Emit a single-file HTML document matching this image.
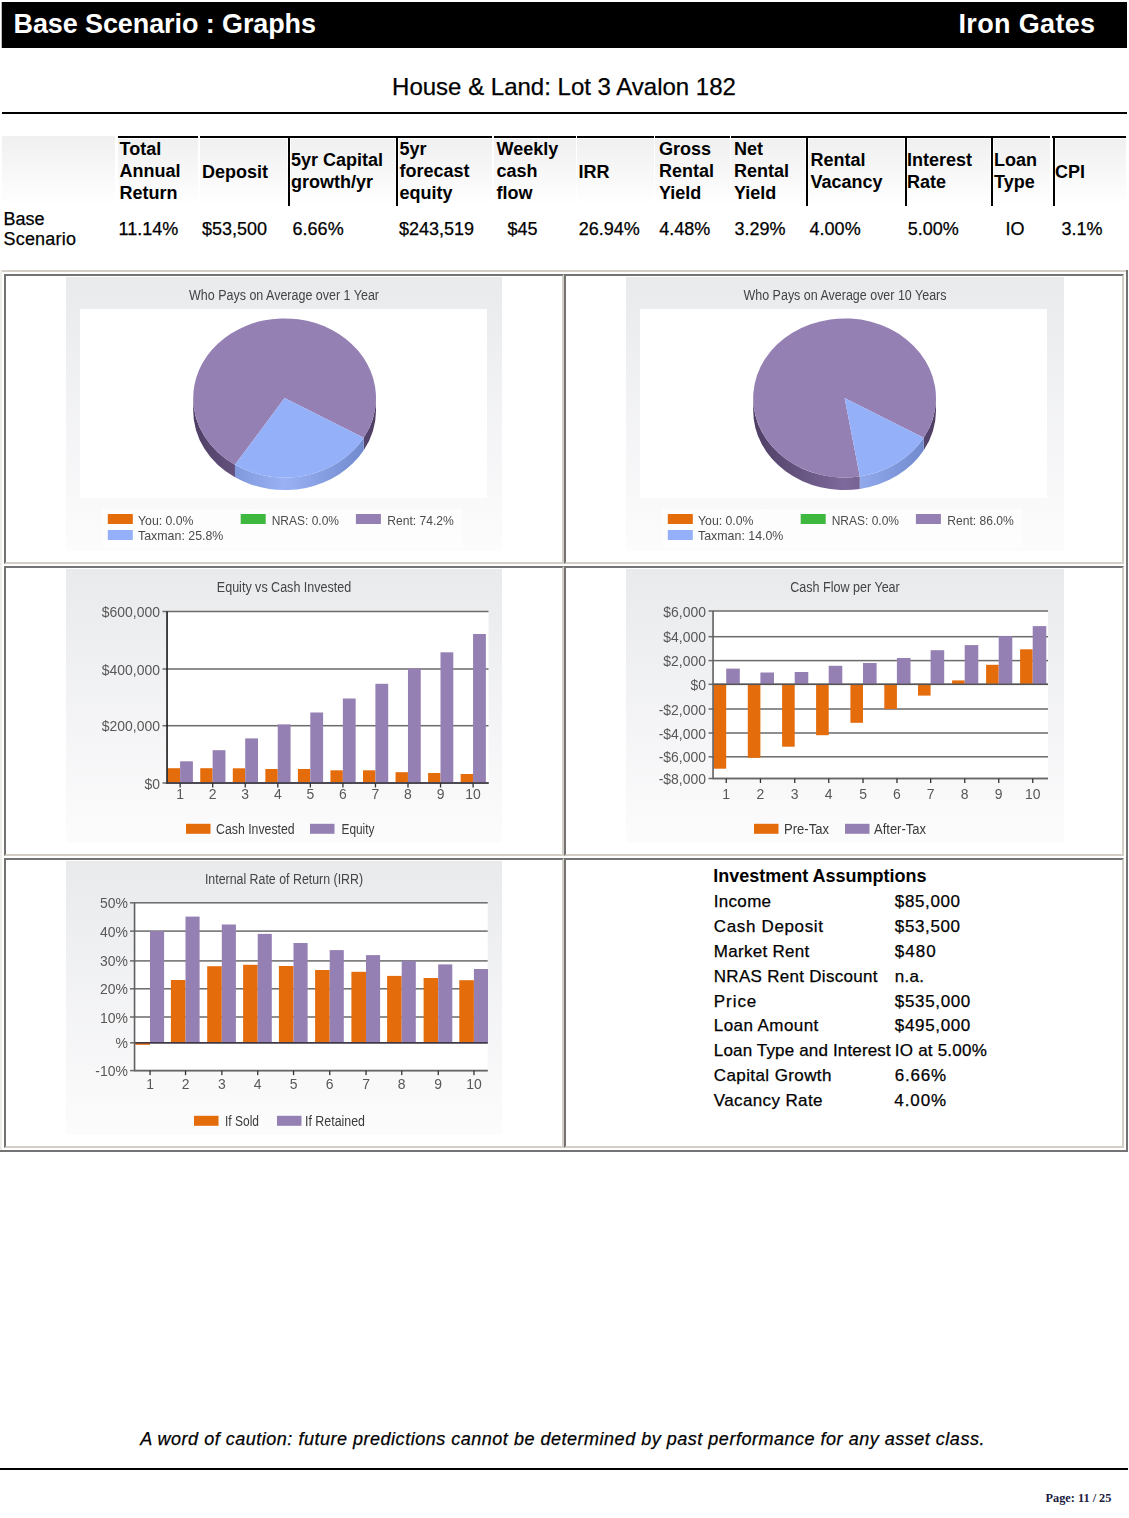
<!DOCTYPE html><html><head><meta charset="utf-8"><title>Base Scenario : Graphs</title><style>
html,body{margin:0;padding:0;background:#fff;}
body{width:1129px;height:1518px;position:relative;overflow:hidden;font-family:"Liberation Sans",Arial,sans-serif;}
.t{position:absolute;line-height:1;white-space:nowrap;}
.r{-webkit-text-stroke:0.25px currentColor;}
svg{position:absolute;overflow:hidden;filter:blur(0.35px);}
svg text{font-family:"Liberation Sans",Arial,sans-serif;}
</style></head><body>
<div style="position:absolute;left:2px;top:2px;width:1125px;height:46px;background:#000;"></div>
<div style="position:absolute;left:1px;top:2px;width:1px;height:46px;background:#bbb;"></div>
<div class="t" style="left:13.50px;top:11.14px;font-size:27px;font-weight:bold;font-style:normal;color:#fff;letter-spacing:-0.1px;">Base Scenario : Graphs</div>
<div class="t" style="right:33.50px;top:11.14px;font-size:27px;font-weight:bold;font-style:normal;color:#fff;letter-spacing:0.35px;">Iron Gates</div>
<div class="t r" style="left:564.00px;transform:translateX(-50%);top:75.08px;font-size:24px;font-weight:normal;font-style:normal;color:#000;">House &amp; Land: Lot 3 Avalon 182</div>
<div style="position:absolute;left:2px;top:112px;width:1125px;height:2px;background:#000;"></div>
<div style="position:absolute;left:2px;top:136px;width:113px;height:70px;background:linear-gradient(#f0f0f0,#fff);"></div>
<div style="position:absolute;left:118px;top:139px;width:80px;height:67px;background:linear-gradient(#f0f0f0,#fff);"></div>
<div style="position:absolute;left:200px;top:139px;width:87px;height:67px;background:linear-gradient(#f0f0f0,#fff);"></div>
<div style="position:absolute;left:291px;top:139px;width:104px;height:67px;background:linear-gradient(#f0f0f0,#fff);"></div>
<div style="position:absolute;left:399px;top:139px;width:93px;height:67px;background:linear-gradient(#f0f0f0,#fff);"></div>
<div style="position:absolute;left:494px;top:139px;width:82px;height:67px;background:linear-gradient(#f0f0f0,#fff);"></div>
<div style="position:absolute;left:577px;top:139px;width:77px;height:67px;background:linear-gradient(#f0f0f0,#fff);"></div>
<div style="position:absolute;left:655px;top:139px;width:75px;height:67px;background:linear-gradient(#f0f0f0,#fff);"></div>
<div style="position:absolute;left:731px;top:139px;width:74px;height:67px;background:linear-gradient(#f0f0f0,#fff);"></div>
<div style="position:absolute;left:809px;top:139px;width:95px;height:67px;background:linear-gradient(#f0f0f0,#fff);"></div>
<div style="position:absolute;left:908px;top:139px;width:82px;height:67px;background:linear-gradient(#f0f0f0,#fff);"></div>
<div style="position:absolute;left:994px;top:139px;width:56px;height:67px;background:linear-gradient(#f0f0f0,#fff);"></div>
<div style="position:absolute;left:1056px;top:139px;width:70px;height:67px;background:linear-gradient(#f0f0f0,#fff);"></div>
<div style="position:absolute;left:118px;top:136px;width:80px;height:2px;background:#000;"></div>
<div style="position:absolute;left:200px;top:136px;width:292px;height:2px;background:#000;"></div>
<div style="position:absolute;left:494px;top:136px;width:82px;height:2px;background:#000;"></div>
<div style="position:absolute;left:577px;top:136px;width:77px;height:2px;background:#000;"></div>
<div style="position:absolute;left:655px;top:136px;width:75px;height:2px;background:#000;"></div>
<div style="position:absolute;left:731px;top:136px;width:319px;height:2px;background:#000;"></div>
<div style="position:absolute;left:1052px;top:136px;width:74px;height:2px;background:#000;"></div>
<div style="position:absolute;left:288px;top:136px;width:2px;height:70px;background:#000;"></div>
<div style="position:absolute;left:396px;top:136px;width:2px;height:70px;background:#000;"></div>
<div style="position:absolute;left:806px;top:136px;width:2px;height:70px;background:#000;"></div>
<div style="position:absolute;left:905px;top:136px;width:2px;height:70px;background:#000;"></div>
<div style="position:absolute;left:991px;top:136px;width:2px;height:70px;background:#000;"></div>
<div style="position:absolute;left:1053px;top:136px;width:2px;height:70px;background:#000;"></div>
<div class="t" style="left:119.50px;top:140.26px;font-size:18px;font-weight:bold;font-style:normal;color:#000;">Total</div>
<div class="t" style="left:119.50px;top:162.06px;font-size:18px;font-weight:bold;font-style:normal;color:#000;">Annual</div>
<div class="t" style="left:119.50px;top:183.86px;font-size:18px;font-weight:bold;font-style:normal;color:#000;">Return</div>
<div class="t" style="left:202.00px;top:163.16px;font-size:18px;font-weight:bold;font-style:normal;color:#000;">Deposit</div>
<div class="t" style="left:291.00px;top:150.86px;font-size:18px;font-weight:bold;font-style:normal;color:#000;">5yr Capital</div>
<div class="t" style="left:291.00px;top:172.66px;font-size:18px;font-weight:bold;font-style:normal;color:#000;">growth/yr</div>
<div class="t" style="left:399.50px;top:140.26px;font-size:18px;font-weight:bold;font-style:normal;color:#000;">5yr</div>
<div class="t" style="left:399.50px;top:162.06px;font-size:18px;font-weight:bold;font-style:normal;color:#000;">forecast</div>
<div class="t" style="left:399.50px;top:183.86px;font-size:18px;font-weight:bold;font-style:normal;color:#000;">equity</div>
<div class="t" style="left:496.50px;top:140.26px;font-size:18px;font-weight:bold;font-style:normal;color:#000;">Weekly</div>
<div class="t" style="left:496.50px;top:162.06px;font-size:18px;font-weight:bold;font-style:normal;color:#000;">cash</div>
<div class="t" style="left:496.50px;top:183.86px;font-size:18px;font-weight:bold;font-style:normal;color:#000;">flow</div>
<div class="t" style="left:578.50px;top:163.16px;font-size:18px;font-weight:bold;font-style:normal;color:#000;">IRR</div>
<div class="t" style="left:659.00px;top:140.26px;font-size:18px;font-weight:bold;font-style:normal;color:#000;">Gross</div>
<div class="t" style="left:659.00px;top:162.06px;font-size:18px;font-weight:bold;font-style:normal;color:#000;">Rental</div>
<div class="t" style="left:659.00px;top:183.86px;font-size:18px;font-weight:bold;font-style:normal;color:#000;">Yield</div>
<div class="t" style="left:734.00px;top:140.26px;font-size:18px;font-weight:bold;font-style:normal;color:#000;">Net</div>
<div class="t" style="left:734.00px;top:162.06px;font-size:18px;font-weight:bold;font-style:normal;color:#000;">Rental</div>
<div class="t" style="left:734.00px;top:183.86px;font-size:18px;font-weight:bold;font-style:normal;color:#000;">Yield</div>
<div class="t" style="left:810.50px;top:150.86px;font-size:18px;font-weight:bold;font-style:normal;color:#000;">Rental</div>
<div class="t" style="left:810.50px;top:172.66px;font-size:18px;font-weight:bold;font-style:normal;color:#000;">Vacancy</div>
<div class="t" style="left:907.00px;top:150.86px;font-size:18px;font-weight:bold;font-style:normal;color:#000;">Interest</div>
<div class="t" style="left:907.00px;top:172.66px;font-size:18px;font-weight:bold;font-style:normal;color:#000;">Rate</div>
<div class="t" style="left:994.00px;top:150.86px;font-size:18px;font-weight:bold;font-style:normal;color:#000;">Loan</div>
<div class="t" style="left:994.00px;top:172.66px;font-size:18px;font-weight:bold;font-style:normal;color:#000;">Type</div>
<div class="t" style="left:1055.00px;top:163.16px;font-size:18px;font-weight:bold;font-style:normal;color:#000;">CPI</div>
<div class="t r" style="left:3.50px;top:210.26px;font-size:18px;font-weight:normal;font-style:normal;color:#000;">Base</div>
<div class="t r" style="left:3.50px;top:230.26px;font-size:18px;font-weight:normal;font-style:normal;color:#000;letter-spacing:0.2px;">Scenario</div>
<div class="t r" style="left:118.60px;top:219.76px;font-size:18px;font-weight:normal;font-style:normal;color:#000;">11.14%</div>
<div class="t r" style="left:202.00px;top:219.76px;font-size:18px;font-weight:normal;font-style:normal;color:#000;">$53,500</div>
<div class="t r" style="left:292.60px;top:219.76px;font-size:18px;font-weight:normal;font-style:normal;color:#000;">6.66%</div>
<div class="t r" style="left:399.00px;top:219.76px;font-size:18px;font-weight:normal;font-style:normal;color:#000;">$243,519</div>
<div class="t r" style="left:507.50px;top:219.76px;font-size:18px;font-weight:normal;font-style:normal;color:#000;">$45</div>
<div class="t r" style="left:578.70px;top:219.76px;font-size:18px;font-weight:normal;font-style:normal;color:#000;">26.94%</div>
<div class="t r" style="left:659.30px;top:219.76px;font-size:18px;font-weight:normal;font-style:normal;color:#000;">4.48%</div>
<div class="t r" style="left:734.50px;top:219.76px;font-size:18px;font-weight:normal;font-style:normal;color:#000;">3.29%</div>
<div class="t r" style="left:809.60px;top:219.76px;font-size:18px;font-weight:normal;font-style:normal;color:#000;">4.00%</div>
<div class="t r" style="left:907.80px;top:219.76px;font-size:18px;font-weight:normal;font-style:normal;color:#000;">5.00%</div>
<div class="t r" style="left:1005.60px;top:219.76px;font-size:18px;font-weight:normal;font-style:normal;color:#000;">IO</div>
<div class="t r" style="left:1061.50px;top:219.76px;font-size:18px;font-weight:normal;font-style:normal;color:#000;">3.1%</div>
<div style="position:absolute;left:0px;top:270px;width:1128px;height:2px;background:#d3cfc7;"></div>
<div style="position:absolute;left:0px;top:270px;width:2px;height:882px;background:#efeeea;"></div>
<div style="position:absolute;left:1126px;top:270px;width:2px;height:882px;background:#737373;"></div>
<div style="position:absolute;left:0px;top:1150px;width:1128px;height:2px;background:#737373;"></div>
<div style="position:absolute;left:4px;top:274px;width:556px;height:286px;border:2px solid;border-color:#737373 #d3cfc7 #d3cfc7 #737373;"></div>
<div style="position:absolute;left:564px;top:274px;width:556px;height:286px;border:2px solid;border-color:#737373 #d3cfc7 #d3cfc7 #737373;"></div>
<div style="position:absolute;left:4px;top:566px;width:556px;height:286px;border:2px solid;border-color:#737373 #d3cfc7 #d3cfc7 #737373;"></div>
<div style="position:absolute;left:564px;top:566px;width:556px;height:286px;border:2px solid;border-color:#737373 #d3cfc7 #d3cfc7 #737373;"></div>
<div style="position:absolute;left:4px;top:858px;width:556px;height:286px;border:2px solid;border-color:#737373 #d3cfc7 #d3cfc7 #737373;"></div>
<div style="position:absolute;left:564px;top:858px;width:556px;height:286px;border:2px solid;border-color:#737373 #d3cfc7 #d3cfc7 #737373;"></div>
<svg style="left:66px;top:277px" width="436" height="274" viewBox="66 277 436 274">
<defs><linearGradient id="bg66277" x1="0" y1="0" x2="0" y2="1"><stop offset="0" stop-color="#e9eaec"/><stop offset="1" stop-color="#fcfcfd"/></linearGradient></defs>
<rect x="66" y="277" width="436" height="274" fill="url(#bg66277)"/>
<text x="189.00" y="299.70" font-size="14" text-anchor="start" fill="#444" textLength="190" lengthAdjust="spacingAndGlyphs" >Who Pays on Average over 1 Year</text>
<rect x="80" y="309" width="407" height="189" fill="#fff"/>
<defs>
<linearGradient id="ps66" x1="0" y1="0" x2="1" y2="0"><stop offset="0" stop-color="#5a4870"/><stop offset="0.5" stop-color="#7a6698"/><stop offset="1" stop-color="#5a4870"/></linearGradient>
<linearGradient id="bs66" x1="193.20000000000002" y1="0" x2="376.0" y2="0" gradientUnits="userSpaceOnUse"><stop offset="0" stop-color="#6a84c8"/><stop offset="0.5" stop-color="#9ab2f4"/><stop offset="1" stop-color="#6a84c8"/></linearGradient>
<linearGradient id="pp66" x1="193.20000000000002" y1="0" x2="376.0" y2="0" gradientUnits="userSpaceOnUse"><stop offset="0" stop-color="#4e3e64"/><stop offset="0.5" stop-color="#7e6a9c"/><stop offset="1" stop-color="#4e3e64"/></linearGradient>
</defs>
<path d="M234.98,464.85 A91.4,79.6 0 0 1 193.20,398.00 L193.20,410.50 A91.4,79.6 0 0 0 234.98,477.35 Z" fill="url(#pp66)"/>
<path d="M376.00,398.00 A91.4,79.6 0 0 1 363.75,437.80 L363.75,450.30 A91.4,79.6 0 0 0 376.00,410.50 Z" fill="url(#pp66)"/>
<path d="M363.75,437.80 A91.4,79.6 0 0 1 234.98,464.85 L234.98,477.35 A91.4,79.6 0 0 0 363.75,450.30 Z" fill="url(#bs66)"/>
<path d="M284.60,398.00 L234.98,464.85 A91.4,79.6 0 1 1 363.75,437.80 Z" fill="#9580b4"/>
<path d="M284.60,398.00 L363.75,437.80 A91.4,79.6 0 0 1 234.98,464.85 Z" fill="#94b0f8"/>
<rect x="102" y="509" width="360" height="38" fill="#fff" opacity="0.6"/>
<rect x="107.8" y="514" width="25" height="10" fill="#e46c0a"/>
<text x="138.00" y="524.80" font-size="13.5" text-anchor="start" fill="#4a4a4a" textLength="55.5" lengthAdjust="spacingAndGlyphs" >You: 0.0%</text>
<rect x="240.7" y="514" width="25" height="10" fill="#3fb83f"/>
<text x="271.70" y="524.80" font-size="13.5" text-anchor="start" fill="#4a4a4a" textLength="67.3" lengthAdjust="spacingAndGlyphs" >NRAS: 0.0%</text>
<rect x="355.9" y="514" width="25" height="10" fill="#9580b4"/>
<text x="387.20" y="524.80" font-size="13.5" text-anchor="start" fill="#4a4a4a" textLength="66.6" lengthAdjust="spacingAndGlyphs" >Rent: 74.2%</text>
<rect x="107.8" y="530" width="25" height="10" fill="#94b0f8"/>
<text x="138.00" y="540.20" font-size="13.5" text-anchor="start" fill="#4a4a4a" textLength="85.4" lengthAdjust="spacingAndGlyphs" >Taxman: 25.8%</text>
</svg>
<svg style="left:626px;top:277px" width="438" height="274" viewBox="626 277 438 274">
<defs><linearGradient id="bg626277" x1="0" y1="0" x2="0" y2="1"><stop offset="0" stop-color="#e9eaec"/><stop offset="1" stop-color="#fcfcfd"/></linearGradient></defs>
<rect x="626" y="277" width="438" height="274" fill="url(#bg626277)"/>
<text x="743.50" y="299.70" font-size="14" text-anchor="start" fill="#444" textLength="203" lengthAdjust="spacingAndGlyphs" >Who Pays on Average over 10 Years</text>
<rect x="640" y="309" width="407" height="189" fill="#fff"/>
<defs>
<linearGradient id="ps626" x1="0" y1="0" x2="1" y2="0"><stop offset="0" stop-color="#5a4870"/><stop offset="0.5" stop-color="#7a6698"/><stop offset="1" stop-color="#5a4870"/></linearGradient>
<linearGradient id="bs626" x1="753.2" y1="0" x2="936.0" y2="0" gradientUnits="userSpaceOnUse"><stop offset="0" stop-color="#6a84c8"/><stop offset="0.5" stop-color="#9ab2f4"/><stop offset="1" stop-color="#6a84c8"/></linearGradient>
<linearGradient id="pp626" x1="753.2" y1="0" x2="936.0" y2="0" gradientUnits="userSpaceOnUse"><stop offset="0" stop-color="#4e3e64"/><stop offset="0.5" stop-color="#7e6a9c"/><stop offset="1" stop-color="#4e3e64"/></linearGradient>
</defs>
<path d="M859.84,476.49 A91.4,79.6 0 0 1 753.20,398.00 L753.20,410.50 A91.4,79.6 0 0 0 859.84,488.99 Z" fill="url(#pp626)"/>
<path d="M936.00,398.00 A91.4,79.6 0 0 1 923.75,437.80 L923.75,450.30 A91.4,79.6 0 0 0 936.00,410.50 Z" fill="url(#pp626)"/>
<path d="M923.75,437.80 A91.4,79.6 0 0 1 859.84,476.49 L859.84,488.99 A91.4,79.6 0 0 0 923.75,450.30 Z" fill="url(#bs626)"/>
<path d="M844.60,398.00 L859.84,476.49 A91.4,79.6 0 1 1 923.75,437.80 Z" fill="#9580b4"/>
<path d="M844.60,398.00 L923.75,437.80 A91.4,79.6 0 0 1 859.84,476.49 Z" fill="#94b0f8"/>
<rect x="662" y="509" width="360" height="38" fill="#fff" opacity="0.6"/>
<rect x="667.8" y="514" width="25" height="10" fill="#e46c0a"/>
<text x="698.00" y="524.80" font-size="13.5" text-anchor="start" fill="#4a4a4a" textLength="55.5" lengthAdjust="spacingAndGlyphs" >You: 0.0%</text>
<rect x="800.7" y="514" width="25" height="10" fill="#3fb83f"/>
<text x="831.70" y="524.80" font-size="13.5" text-anchor="start" fill="#4a4a4a" textLength="67.3" lengthAdjust="spacingAndGlyphs" >NRAS: 0.0%</text>
<rect x="915.9" y="514" width="25" height="10" fill="#9580b4"/>
<text x="947.20" y="524.80" font-size="13.5" text-anchor="start" fill="#4a4a4a" textLength="66.6" lengthAdjust="spacingAndGlyphs" >Rent: 86.0%</text>
<rect x="667.8" y="530" width="25" height="10" fill="#94b0f8"/>
<text x="698.00" y="540.20" font-size="13.5" text-anchor="start" fill="#4a4a4a" textLength="85.4" lengthAdjust="spacingAndGlyphs" >Taxman: 14.0%</text>
</svg>
<svg style="left:66px;top:569px" width="436" height="274" viewBox="66 569 436 274">
<defs><linearGradient id="bg66569" x1="0" y1="0" x2="0" y2="1"><stop offset="0" stop-color="#e9eaec"/><stop offset="1" stop-color="#fcfcfd"/></linearGradient></defs>
<rect x="66" y="569" width="436" height="274" fill="url(#bg66569)"/>
<text x="216.85" y="591.70" font-size="14" text-anchor="start" fill="#444" textLength="134.3" lengthAdjust="spacingAndGlyphs" >Equity vs Cash Invested</text>
<rect x="167" y="611.5" width="321.5" height="171.5" fill="#fff"/>
<rect x="162.5" y="610.75" width="326.0" height="1.5" fill="#6b6b6b"/>
<text transform="translate(160.00,617.00) scale(0.93,1)" x="0" y="0" font-size="15" text-anchor="end" fill="#585858" >$600,000</text>
<rect x="162.5" y="668.25" width="326.0" height="1.5" fill="#6b6b6b"/>
<text transform="translate(160.00,674.50) scale(0.93,1)" x="0" y="0" font-size="15" text-anchor="end" fill="#585858" >$400,000</text>
<rect x="162.5" y="724.95" width="326.0" height="1.5" fill="#6b6b6b"/>
<text transform="translate(160.00,731.20) scale(0.93,1)" x="0" y="0" font-size="15" text-anchor="end" fill="#585858" >$200,000</text>
<rect x="162.5" y="782.25" width="326.0" height="1.5" fill="#6b6b6b"/>
<text transform="translate(160.00,788.50) scale(0.93,1)" x="0" y="0" font-size="15" text-anchor="end" fill="#585858" >$0</text>
<rect x="167.70" y="768.20" width="12.4" height="14.80" fill="#e46c0a"/>
<rect x="180.10" y="761.30" width="12.8" height="21.70" fill="#9580b4"/>
<rect x="200.25" y="768.20" width="12.4" height="14.80" fill="#e46c0a"/>
<rect x="212.65" y="750.20" width="12.8" height="32.80" fill="#9580b4"/>
<rect x="232.80" y="768.30" width="12.4" height="14.70" fill="#e46c0a"/>
<rect x="245.20" y="738.40" width="12.8" height="44.60" fill="#9580b4"/>
<rect x="265.35" y="769.00" width="12.4" height="14.00" fill="#e46c0a"/>
<rect x="277.75" y="724.40" width="12.8" height="58.60" fill="#9580b4"/>
<rect x="297.90" y="769.00" width="12.4" height="14.00" fill="#e46c0a"/>
<rect x="310.30" y="712.50" width="12.8" height="70.50" fill="#9580b4"/>
<rect x="330.45" y="770.30" width="12.4" height="12.70" fill="#e46c0a"/>
<rect x="342.85" y="698.50" width="12.8" height="84.50" fill="#9580b4"/>
<rect x="363.00" y="770.30" width="12.4" height="12.70" fill="#e46c0a"/>
<rect x="375.40" y="683.80" width="12.8" height="99.20" fill="#9580b4"/>
<rect x="395.55" y="772.20" width="12.4" height="10.80" fill="#e46c0a"/>
<rect x="407.95" y="668.60" width="12.8" height="114.40" fill="#9580b4"/>
<rect x="428.10" y="773.00" width="12.4" height="10.00" fill="#e46c0a"/>
<rect x="440.50" y="652.30" width="12.8" height="130.70" fill="#9580b4"/>
<rect x="460.65" y="774.00" width="12.4" height="9.00" fill="#e46c0a"/>
<rect x="473.05" y="634.00" width="12.8" height="149.00" fill="#9580b4"/>
<rect x="167" y="782.25" width="321.5" height="1.5" fill="#4a4650"/>
<rect x="166.25" y="611.5" width="1.6" height="172.25" fill="#1a1a1a"/>
<rect x="167" y="782.25" width="321.5" height="1.5" fill="#4a4650"/>
<rect x="179.50" y="783" width="1.3" height="4.5" fill="#333"/>
<text transform="translate(180.10,799.00) scale(0.93,1)" x="0" y="0" font-size="15" text-anchor="middle" fill="#585858" >1</text>
<rect x="212.05" y="783" width="1.3" height="4.5" fill="#333"/>
<text transform="translate(212.65,799.00) scale(0.93,1)" x="0" y="0" font-size="15" text-anchor="middle" fill="#585858" >2</text>
<rect x="244.60" y="783" width="1.3" height="4.5" fill="#333"/>
<text transform="translate(245.20,799.00) scale(0.93,1)" x="0" y="0" font-size="15" text-anchor="middle" fill="#585858" >3</text>
<rect x="277.15" y="783" width="1.3" height="4.5" fill="#333"/>
<text transform="translate(277.75,799.00) scale(0.93,1)" x="0" y="0" font-size="15" text-anchor="middle" fill="#585858" >4</text>
<rect x="309.70" y="783" width="1.3" height="4.5" fill="#333"/>
<text transform="translate(310.30,799.00) scale(0.93,1)" x="0" y="0" font-size="15" text-anchor="middle" fill="#585858" >5</text>
<rect x="342.25" y="783" width="1.3" height="4.5" fill="#333"/>
<text transform="translate(342.85,799.00) scale(0.93,1)" x="0" y="0" font-size="15" text-anchor="middle" fill="#585858" >6</text>
<rect x="374.80" y="783" width="1.3" height="4.5" fill="#333"/>
<text transform="translate(375.40,799.00) scale(0.93,1)" x="0" y="0" font-size="15" text-anchor="middle" fill="#585858" >7</text>
<rect x="407.35" y="783" width="1.3" height="4.5" fill="#333"/>
<text transform="translate(407.95,799.00) scale(0.93,1)" x="0" y="0" font-size="15" text-anchor="middle" fill="#585858" >8</text>
<rect x="439.90" y="783" width="1.3" height="4.5" fill="#333"/>
<text transform="translate(440.50,799.00) scale(0.93,1)" x="0" y="0" font-size="15" text-anchor="middle" fill="#585858" >9</text>
<rect x="472.45" y="783" width="1.3" height="4.5" fill="#333"/>
<text transform="translate(473.05,799.00) scale(0.93,1)" x="0" y="0" font-size="15" text-anchor="middle" fill="#585858" >10</text>
<rect x="186" y="823.8" width="24.5" height="10" fill="#e46c0a"/>
<text x="216.00" y="833.80" font-size="14" text-anchor="start" fill="#3a3a3a" textLength="78.7" lengthAdjust="spacingAndGlyphs" >Cash Invested</text>
<rect x="310" y="823.8" width="24.5" height="10" fill="#9580b4"/>
<text x="341.50" y="833.80" font-size="14" text-anchor="start" fill="#3a3a3a" textLength="33" lengthAdjust="spacingAndGlyphs" >Equity</text>
</svg>
<svg style="left:626px;top:569px" width="438" height="274" viewBox="626 569 438 274">
<defs><linearGradient id="bg626569" x1="0" y1="0" x2="0" y2="1"><stop offset="0" stop-color="#e9eaec"/><stop offset="1" stop-color="#fcfcfd"/></linearGradient></defs>
<rect x="626" y="569" width="438" height="274" fill="url(#bg626569)"/>
<text x="790.20" y="591.70" font-size="14" text-anchor="start" fill="#444" textLength="109.6" lengthAdjust="spacingAndGlyphs" >Cash Flow per Year</text>
<rect x="713" y="611" width="335" height="167.5" fill="#fff"/>
<rect x="708.5" y="610.25" width="339.5" height="1.5" fill="#6b6b6b"/>
<text transform="translate(706.00,616.50) scale(0.93,1)" x="0" y="0" font-size="15" text-anchor="end" fill="#585858" >$6,000</text>
<rect x="708.5" y="635.95" width="339.5" height="1.5" fill="#6b6b6b"/>
<text transform="translate(706.00,642.20) scale(0.93,1)" x="0" y="0" font-size="15" text-anchor="end" fill="#585858" >$4,000</text>
<rect x="708.5" y="659.85" width="339.5" height="1.5" fill="#6b6b6b"/>
<text transform="translate(706.00,666.10) scale(0.93,1)" x="0" y="0" font-size="15" text-anchor="end" fill="#585858" >$2,000</text>
<rect x="708.5" y="683.55" width="339.5" height="1.5" fill="#6b6b6b"/>
<text transform="translate(706.00,689.80) scale(0.93,1)" x="0" y="0" font-size="15" text-anchor="end" fill="#585858" >$0</text>
<rect x="708.5" y="708.25" width="339.5" height="1.5" fill="#6b6b6b"/>
<text transform="translate(706.00,714.50) scale(0.93,1)" x="0" y="0" font-size="15" text-anchor="end" fill="#585858" >-$2,000</text>
<rect x="708.5" y="732.25" width="339.5" height="1.5" fill="#6b6b6b"/>
<text transform="translate(706.00,738.50) scale(0.93,1)" x="0" y="0" font-size="15" text-anchor="end" fill="#585858" >-$4,000</text>
<rect x="708.5" y="756.05" width="339.5" height="1.5" fill="#6b6b6b"/>
<text transform="translate(706.00,762.30) scale(0.93,1)" x="0" y="0" font-size="15" text-anchor="end" fill="#585858" >-$6,000</text>
<rect x="708.5" y="777.75" width="339.5" height="1.5" fill="#6b6b6b"/>
<text transform="translate(706.00,784.00) scale(0.93,1)" x="0" y="0" font-size="15" text-anchor="end" fill="#585858" >-$8,000</text>
<rect x="713.60" y="684.30" width="12.6" height="84.40" fill="#e46c0a"/>
<rect x="726.20" y="668.60" width="13.6" height="15.70" fill="#9580b4"/>
<rect x="747.80" y="684.30" width="12.6" height="73.50" fill="#e46c0a"/>
<rect x="760.40" y="672.50" width="13.6" height="11.80" fill="#9580b4"/>
<rect x="782.10" y="684.30" width="12.6" height="62.40" fill="#e46c0a"/>
<rect x="794.70" y="672.00" width="13.6" height="12.30" fill="#9580b4"/>
<rect x="816.10" y="684.30" width="12.6" height="50.90" fill="#e46c0a"/>
<rect x="828.70" y="665.80" width="13.6" height="18.50" fill="#9580b4"/>
<rect x="850.40" y="684.30" width="12.6" height="38.50" fill="#e46c0a"/>
<rect x="863.00" y="663.00" width="13.6" height="21.30" fill="#9580b4"/>
<rect x="884.30" y="684.30" width="12.6" height="24.70" fill="#e46c0a"/>
<rect x="896.90" y="658.00" width="13.6" height="26.30" fill="#9580b4"/>
<rect x="918.00" y="684.30" width="12.6" height="11.30" fill="#e46c0a"/>
<rect x="930.60" y="650.20" width="13.6" height="34.10" fill="#9580b4"/>
<rect x="952.10" y="680.40" width="12.6" height="3.90" fill="#e46c0a"/>
<rect x="964.70" y="645.10" width="13.6" height="39.20" fill="#9580b4"/>
<rect x="986.10" y="664.80" width="12.6" height="19.50" fill="#e46c0a"/>
<rect x="998.70" y="636.20" width="13.6" height="48.10" fill="#9580b4"/>
<rect x="1020.10" y="649.30" width="12.6" height="35.00" fill="#e46c0a"/>
<rect x="1032.70" y="626.10" width="13.6" height="58.20" fill="#9580b4"/>
<rect x="713" y="683.55" width="335" height="1.5" fill="#555"/>
<rect x="712.25" y="611" width="1.6" height="168.25" fill="#606060"/>
<rect x="713" y="777.75" width="335" height="1.5" fill="#666"/>
<rect x="725.60" y="778.5" width="1.3" height="4.5" fill="#333"/>
<text transform="translate(726.20,798.50) scale(0.93,1)" x="0" y="0" font-size="15" text-anchor="middle" fill="#585858" >1</text>
<rect x="759.80" y="778.5" width="1.3" height="4.5" fill="#333"/>
<text transform="translate(760.40,798.50) scale(0.93,1)" x="0" y="0" font-size="15" text-anchor="middle" fill="#585858" >2</text>
<rect x="794.10" y="778.5" width="1.3" height="4.5" fill="#333"/>
<text transform="translate(794.70,798.50) scale(0.93,1)" x="0" y="0" font-size="15" text-anchor="middle" fill="#585858" >3</text>
<rect x="828.10" y="778.5" width="1.3" height="4.5" fill="#333"/>
<text transform="translate(828.70,798.50) scale(0.93,1)" x="0" y="0" font-size="15" text-anchor="middle" fill="#585858" >4</text>
<rect x="862.40" y="778.5" width="1.3" height="4.5" fill="#333"/>
<text transform="translate(863.00,798.50) scale(0.93,1)" x="0" y="0" font-size="15" text-anchor="middle" fill="#585858" >5</text>
<rect x="896.30" y="778.5" width="1.3" height="4.5" fill="#333"/>
<text transform="translate(896.90,798.50) scale(0.93,1)" x="0" y="0" font-size="15" text-anchor="middle" fill="#585858" >6</text>
<rect x="930.00" y="778.5" width="1.3" height="4.5" fill="#333"/>
<text transform="translate(930.60,798.50) scale(0.93,1)" x="0" y="0" font-size="15" text-anchor="middle" fill="#585858" >7</text>
<rect x="964.10" y="778.5" width="1.3" height="4.5" fill="#333"/>
<text transform="translate(964.70,798.50) scale(0.93,1)" x="0" y="0" font-size="15" text-anchor="middle" fill="#585858" >8</text>
<rect x="998.10" y="778.5" width="1.3" height="4.5" fill="#333"/>
<text transform="translate(998.70,798.50) scale(0.93,1)" x="0" y="0" font-size="15" text-anchor="middle" fill="#585858" >9</text>
<rect x="1032.10" y="778.5" width="1.3" height="4.5" fill="#333"/>
<text transform="translate(1032.70,798.50) scale(0.93,1)" x="0" y="0" font-size="15" text-anchor="middle" fill="#585858" >10</text>
<rect x="754" y="823.8" width="24.5" height="10" fill="#e46c0a"/>
<text x="784.00" y="833.80" font-size="14" text-anchor="start" fill="#3a3a3a" textLength="45" lengthAdjust="spacingAndGlyphs" >Pre-Tax</text>
<rect x="845" y="823.8" width="24.5" height="10" fill="#9580b4"/>
<text x="874.00" y="833.80" font-size="14" text-anchor="start" fill="#3a3a3a" textLength="52" lengthAdjust="spacingAndGlyphs" >After-Tax</text>
</svg>
<svg style="left:66px;top:861px" width="436" height="274" viewBox="66 861 436 274">
<defs><linearGradient id="bg66861" x1="0" y1="0" x2="0" y2="1"><stop offset="0" stop-color="#e9eaec"/><stop offset="1" stop-color="#fcfcfd"/></linearGradient></defs>
<rect x="66" y="861" width="436" height="274" fill="url(#bg66861)"/>
<text x="204.90" y="883.70" font-size="14" text-anchor="start" fill="#444" textLength="158.2" lengthAdjust="spacingAndGlyphs" >Internal Rate of Return (IRR)</text>
<rect x="134.5" y="902.8" width="353.2" height="167.79999999999995" fill="#fff"/>
<rect x="130.0" y="902.05" width="357.7" height="1.5" fill="#6b6b6b"/>
<text transform="translate(127.80,908.30) scale(0.93,1)" x="0" y="0" font-size="15" text-anchor="end" fill="#585858" >50%</text>
<rect x="130.0" y="930.35" width="357.7" height="1.5" fill="#6b6b6b"/>
<text transform="translate(127.80,936.60) scale(0.93,1)" x="0" y="0" font-size="15" text-anchor="end" fill="#585858" >40%</text>
<rect x="130.0" y="960.15" width="357.7" height="1.5" fill="#6b6b6b"/>
<text transform="translate(127.80,966.40) scale(0.93,1)" x="0" y="0" font-size="15" text-anchor="end" fill="#585858" >30%</text>
<rect x="130.0" y="988.05" width="357.7" height="1.5" fill="#6b6b6b"/>
<text transform="translate(127.80,994.30) scale(0.93,1)" x="0" y="0" font-size="15" text-anchor="end" fill="#585858" >20%</text>
<rect x="130.0" y="1016.25" width="357.7" height="1.5" fill="#6b6b6b"/>
<text transform="translate(127.80,1022.50) scale(0.93,1)" x="0" y="0" font-size="15" text-anchor="end" fill="#585858" >10%</text>
<rect x="130.0" y="1042.05" width="357.7" height="1.5" fill="#6b6b6b"/>
<text transform="translate(127.80,1048.30) scale(0.93,1)" x="0" y="0" font-size="15" text-anchor="end" fill="#585858" >%</text>
<rect x="130.0" y="1069.85" width="357.7" height="1.5" fill="#6b6b6b"/>
<text transform="translate(127.80,1076.10) scale(0.93,1)" x="0" y="0" font-size="15" text-anchor="end" fill="#585858" >-10%</text>
<rect x="135.40" y="1042.80" width="14.6" height="2.00" fill="#e46c0a"/>
<rect x="150.00" y="931.10" width="14.1" height="111.70" fill="#9580b4"/>
<rect x="170.90" y="980.00" width="14.6" height="62.80" fill="#e46c0a"/>
<rect x="185.50" y="916.60" width="14.1" height="126.20" fill="#9580b4"/>
<rect x="207.20" y="966.20" width="14.6" height="76.60" fill="#e46c0a"/>
<rect x="221.80" y="924.50" width="14.1" height="118.30" fill="#9580b4"/>
<rect x="243.10" y="964.80" width="14.6" height="78.00" fill="#e46c0a"/>
<rect x="257.70" y="933.90" width="14.1" height="108.90" fill="#9580b4"/>
<rect x="278.90" y="966.00" width="14.6" height="76.80" fill="#e46c0a"/>
<rect x="293.50" y="943.00" width="14.1" height="99.80" fill="#9580b4"/>
<rect x="315.10" y="970.00" width="14.6" height="72.80" fill="#e46c0a"/>
<rect x="329.70" y="950.10" width="14.1" height="92.70" fill="#9580b4"/>
<rect x="351.40" y="971.80" width="14.6" height="71.00" fill="#e46c0a"/>
<rect x="366.00" y="955.10" width="14.1" height="87.70" fill="#9580b4"/>
<rect x="387.10" y="975.90" width="14.6" height="66.90" fill="#e46c0a"/>
<rect x="401.70" y="960.70" width="14.1" height="82.10" fill="#9580b4"/>
<rect x="423.60" y="978.00" width="14.6" height="64.80" fill="#e46c0a"/>
<rect x="438.20" y="964.40" width="14.1" height="78.40" fill="#9580b4"/>
<rect x="459.30" y="980.20" width="14.6" height="62.60" fill="#e46c0a"/>
<rect x="473.90" y="969.00" width="14.1" height="73.80" fill="#9580b4"/>
<rect x="134.5" y="1042.05" width="353.2" height="1.5" fill="#3e3648"/>
<rect x="133.75" y="902.8" width="1.6" height="168.54999999999995" fill="#606060"/>
<rect x="134.5" y="1069.85" width="353.2" height="1.5" fill="#666"/>
<rect x="149.40" y="1070.6" width="1.3" height="4.5" fill="#333"/>
<text transform="translate(150.00,1089.00) scale(0.93,1)" x="0" y="0" font-size="15" text-anchor="middle" fill="#585858" >1</text>
<rect x="184.90" y="1070.6" width="1.3" height="4.5" fill="#333"/>
<text transform="translate(185.50,1089.00) scale(0.93,1)" x="0" y="0" font-size="15" text-anchor="middle" fill="#585858" >2</text>
<rect x="221.20" y="1070.6" width="1.3" height="4.5" fill="#333"/>
<text transform="translate(221.80,1089.00) scale(0.93,1)" x="0" y="0" font-size="15" text-anchor="middle" fill="#585858" >3</text>
<rect x="257.10" y="1070.6" width="1.3" height="4.5" fill="#333"/>
<text transform="translate(257.70,1089.00) scale(0.93,1)" x="0" y="0" font-size="15" text-anchor="middle" fill="#585858" >4</text>
<rect x="292.90" y="1070.6" width="1.3" height="4.5" fill="#333"/>
<text transform="translate(293.50,1089.00) scale(0.93,1)" x="0" y="0" font-size="15" text-anchor="middle" fill="#585858" >5</text>
<rect x="329.10" y="1070.6" width="1.3" height="4.5" fill="#333"/>
<text transform="translate(329.70,1089.00) scale(0.93,1)" x="0" y="0" font-size="15" text-anchor="middle" fill="#585858" >6</text>
<rect x="365.40" y="1070.6" width="1.3" height="4.5" fill="#333"/>
<text transform="translate(366.00,1089.00) scale(0.93,1)" x="0" y="0" font-size="15" text-anchor="middle" fill="#585858" >7</text>
<rect x="401.10" y="1070.6" width="1.3" height="4.5" fill="#333"/>
<text transform="translate(401.70,1089.00) scale(0.93,1)" x="0" y="0" font-size="15" text-anchor="middle" fill="#585858" >8</text>
<rect x="437.60" y="1070.6" width="1.3" height="4.5" fill="#333"/>
<text transform="translate(438.20,1089.00) scale(0.93,1)" x="0" y="0" font-size="15" text-anchor="middle" fill="#585858" >9</text>
<rect x="473.30" y="1070.6" width="1.3" height="4.5" fill="#333"/>
<text transform="translate(473.90,1089.00) scale(0.93,1)" x="0" y="0" font-size="15" text-anchor="middle" fill="#585858" >10</text>
<rect x="194" y="1115.8" width="24.5" height="10" fill="#e46c0a"/>
<text x="225.00" y="1125.80" font-size="14" text-anchor="start" fill="#3a3a3a" textLength="34" lengthAdjust="spacingAndGlyphs" >If Sold</text>
<rect x="277" y="1115.8" width="24.5" height="10" fill="#9580b4"/>
<text x="305.00" y="1125.80" font-size="14" text-anchor="start" fill="#3a3a3a" textLength="60" lengthAdjust="spacingAndGlyphs" >If Retained</text>
</svg>
<div class="t" style="left:713.20px;top:867.36px;font-size:18px;font-weight:bold;font-style:normal;color:#000;">Investment Assumptions</div>
<div class="t r" style="left:713.80px;top:892.91px;font-size:17px;font-weight:normal;font-style:normal;color:#000;letter-spacing:0.3px;">Income</div>
<div class="t r" style="left:894.80px;top:892.91px;font-size:17px;font-weight:normal;font-style:normal;color:#000;letter-spacing:0.63px;">$85,000</div>
<div class="t r" style="left:713.80px;top:917.82px;font-size:17px;font-weight:normal;font-style:normal;color:#000;letter-spacing:0.65px;">Cash Deposit</div>
<div class="t r" style="left:894.80px;top:917.82px;font-size:17px;font-weight:normal;font-style:normal;color:#000;letter-spacing:0.63px;">$53,500</div>
<div class="t r" style="left:713.80px;top:942.73px;font-size:17px;font-weight:normal;font-style:normal;color:#000;letter-spacing:0.28px;">Market Rent</div>
<div class="t r" style="left:894.80px;top:942.73px;font-size:17px;font-weight:normal;font-style:normal;color:#000;letter-spacing:1.0px;">$480</div>
<div class="t r" style="left:713.80px;top:967.64px;font-size:17px;font-weight:normal;font-style:normal;color:#000;letter-spacing:0.29px;">NRAS Rent Discount</div>
<div class="t r" style="left:894.80px;top:967.64px;font-size:17px;font-weight:normal;font-style:normal;color:#000;letter-spacing:0.27px;">n.a.</div>
<div class="t r" style="left:713.80px;top:992.55px;font-size:17px;font-weight:normal;font-style:normal;color:#000;letter-spacing:0.95px;">Price</div>
<div class="t r" style="left:894.80px;top:992.55px;font-size:17px;font-weight:normal;font-style:normal;color:#000;letter-spacing:0.66px;">$535,000</div>
<div class="t r" style="left:713.80px;top:1017.46px;font-size:17px;font-weight:normal;font-style:normal;color:#000;letter-spacing:0.43px;">Loan Amount</div>
<div class="t r" style="left:894.80px;top:1017.46px;font-size:17px;font-weight:normal;font-style:normal;color:#000;letter-spacing:0.66px;">$495,000</div>
<div class="t r" style="left:713.80px;top:1042.37px;font-size:17px;font-weight:normal;font-style:normal;color:#000;letter-spacing:0.16px;">Loan Type and Interest</div>
<div class="t r" style="left:894.80px;top:1042.37px;font-size:17px;font-weight:normal;font-style:normal;color:#000;letter-spacing:0.22px;">IO at 5.00%</div>
<div class="t r" style="left:713.80px;top:1067.28px;font-size:17px;font-weight:normal;font-style:normal;color:#000;letter-spacing:0.4px;">Capital Growth</div>
<div class="t r" style="left:894.80px;top:1067.28px;font-size:17px;font-weight:normal;font-style:normal;color:#000;letter-spacing:0.8px;">6.66%</div>
<div class="t r" style="left:713.80px;top:1092.19px;font-size:17px;font-weight:normal;font-style:normal;color:#000;letter-spacing:0.37px;">Vacancy Rate</div>
<div class="t r" style="left:894.30px;top:1092.19px;font-size:17px;font-weight:normal;font-style:normal;color:#000;letter-spacing:0.9px;">4.00%</div>
<div class="t r" style="left:140.20px;top:1430.46px;font-size:18px;font-weight:normal;font-style:italic;color:#000;letter-spacing:0.515px;">A word of caution: future predictions cannot be determined by past performance for any asset class.</div>
<div style="position:absolute;left:0px;top:1468px;width:1128px;height:2px;background:#000;"></div>
<div class="t" style="left:1045.5px;top:1491.59px;font-size:12.3px;font-weight:bold;font-family:'Liberation Serif',serif;color:#1a1a40;">Page: 11 / 25</div>
</body></html>
